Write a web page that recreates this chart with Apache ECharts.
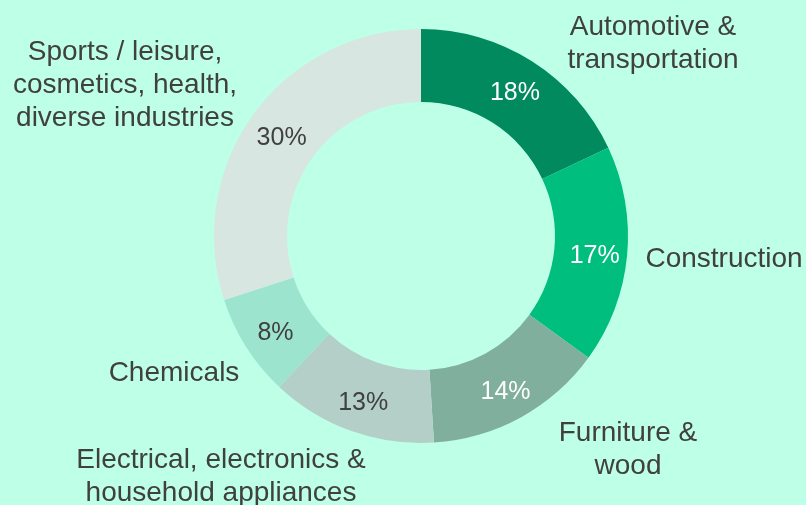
<!DOCTYPE html>
<html>
<head>
<meta charset="utf-8">
<script src="https://cdn.jsdelivr.net/npm/echarts@6/dist/echarts.min.js"></script>
<style>
  html, body { margin: 0; padding: 0; background: #bdffe7; }
  #chart { width: 806px; height: 505px; }
</style>
</head>
<body>
<div id="chart"></div>
<script>
// clockwise from 12 o'clock
const categories = [
  'Automotive &\ntransportation',
  'Construction',
  'Furniture &\nwood',
  'Electrical, electronics &\nhousehold appliances',
  'Chemicals',
  'Sports / leisure,\ncosmetics, health,\ndiverse industries'
]
const shares = [18, 17, 14, 13, 8, 30]

const sliceColors = ['#008a5e', '#00be7e', '#80af9e', '#b3cfc7', '#9de4ce', '#d8e6e1']
const pctColors = ['#ffffff', '#ffffff', '#ffffff', '#404040', '#404040', '#404040']
// where the category names sit (centre of the text block)
const namePos = [[653, 44], [724, 259], [628, 450], [221, 477], [174, 373], [125, 85]]

const textFont = 'Liberation Sans, Arial, sans-serif'

const chart = echarts.init(document.getElementById('chart'))

chart.setOption({
  backgroundColor: '#bdffe7',
  animation: false,
  series: [{
    type: 'pie',
    center: [421, 236],
    radius: [134, 207],
    startAngle: 90,
    clockwise: true,
    silent: true,
    data: shares.map((v, i) => ({
      value: v,
      name: categories[i],
      itemStyle: { color: sliceColors[i] },
      label: { color: pctColors[i] }
    })),
    label: {
      position: 'inside',
      formatter: (p) => p.value + '%',
      fontFamily: textFont,
      fontSize: 25,
      offset: [1, 4]
    },
    labelLine: { show: false }
  }, {
    // invisible copy that only carries the category names
    type: 'pie',
    center: [421, 236],
    radius: [134, 207],
    startAngle: 90,
    clockwise: true,
    silent: true,
    z: 3,
    itemStyle: { color: 'rgba(0,0,0,0)' },
    data: shares.map((v, i) => ({ value: v, name: categories[i] })),
    label: {
      show: true,
      position: 'outside',
      formatter: '{b}',
      color: '#404040',
      fontFamily: textFont,
      fontSize: 28,
      lineHeight: 33,
      align: 'center',
      overflow: 'none',
      width: 400
    },
    labelLine: { show: false },
    labelLayout: (p) => ({
      x: namePos[p.dataIndex][0],
      y: namePos[p.dataIndex][1],
      align: 'center',
      verticalAlign: 'middle',
      hideOverlap: false
    })
  }]
})
</script>
</body>
</html>
